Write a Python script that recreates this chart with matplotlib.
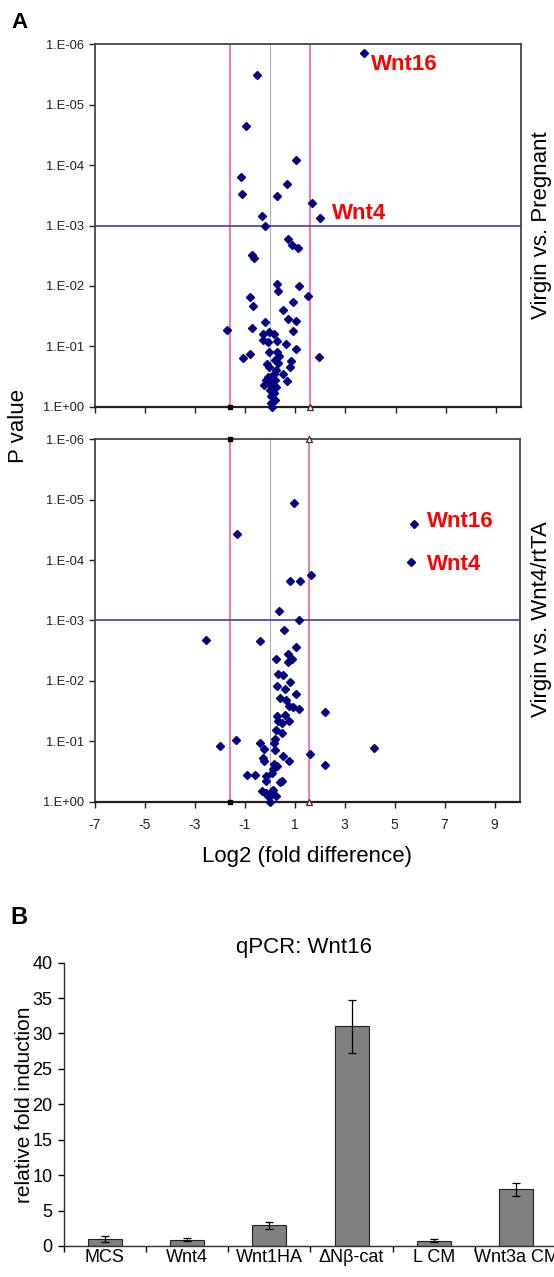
"""
Volcano plots (panel A) and qPCR bar chart (panel B) for Wnt16.
"""
import matplotlib

matplotlib.use("Agg")  # headless
import matplotlib.pyplot as plt
import numpy as np
from matplotlib.ticker import FixedLocator, NullLocator

plt.rcParams.update({
    "font.family": ["Liberation Sans", "DejaVu Sans"],
    "axes.linewidth": 1.2,
})

NAVY = "#000080"
PINK = "#EE5599"
BLUE = "#3838D8"
GRAY_LINE = "#A8A8A8"
FRAME = "#454545"
BAR_GRAY = "#808080"

# --- panel A: Virgin vs. Pregnant (log2 fold, log10 p value) ---
top_x = [
    3.74, -0.53, -0.96, 1.01, -1.17, 0.66, -1.11, 0.28, 1.65, 1.99,
    -0.33, -0.21, 0.72, 0.86, 1.11, -0.73, -0.65, 0.28, 0.32, 1.16,
    1.50, -0.82, -0.69, 0.91, 0.50, 0.69, 1.04, -0.21, -0.73, -1.71,
    -0.30, -0.05, 0.15, 0.91, -0.28, 0.28, 0.63, -0.08, 1.01, -0.06,
    0.26, -0.82, -1.09, 1.96, 0.35, 0.19, 0.83, -0.13, 0.32, 0.77,
    0.22, 0.16, 0.50, -0.06, -0.09, 0.66, -0.23, 0.00, 0.09, 0.23,
    0.01, 0.16, 0.02, 0.19, 0.05, 0.06, 0.21, -0.15,
]
top_log10p = [
    -5.85, -5.50, -4.65, -4.09, -3.80, -3.69, -3.53, -3.49, -3.38, -3.12,
    -3.16, -3.00, -2.78, -2.68, -2.62, -2.52, -2.46, -2.03, -1.92, -2.00,
    -1.84, -1.82, -1.66, -1.74, -1.60, -1.46, -1.42, -1.41, -1.31, -1.27,
    -1.21, -1.24, -1.21, -1.26, -1.10, -1.08, -1.04, -1.07, -0.95, -0.91,
    -0.90, -0.88, -0.80, -0.82, -0.84, -0.77, -0.76, -0.70, -0.72, -0.66,
    -0.61, -0.54, -0.55, -0.65, -0.50, -0.42, -0.36, -0.39, -0.32, -0.33,
    -0.28, -0.22, -0.17, -0.11, -0.06, 0.00, -0.44, -0.44,
]

# --- panel A: Virgin vs. Wnt4/rtTA ---
bot_x = [
    5.79, 5.67, 0.97, -1.31, 1.65, 0.82, 1.23, 0.36, 1.16, 0.57,
    -2.53, -0.38, 1.04, 0.72, 0.89, 0.26, 0.72, 0.35, 0.55, 0.31,
    0.83, 0.62, 1.06, 0.42, 0.66, 0.77, 0.94, 1.16, 2.22, 0.29,
    0.60, 0.33, 0.49, 0.79, 0.25, 0.50, 0.21, 0.16, -1.35, -0.39,
    -1.99, -0.21, 0.21, 4.16, 1.62, 0.53, -0.28, -0.23, 0.77, 0.19,
    0.29, 2.23, 0.13, -0.89, -0.59, -0.16, 0.08, 0.50, -0.13, 0.43,
    -0.30, -0.13, 0.12, 0.25, -0.02, 0.01, -0.19, 0.10,
]
bot_log10p = [
    -4.59, -3.97, -4.94, -4.43, -3.76, -3.65, -3.65, -3.15, -3.00, -2.85,
    -2.68, -2.66, -2.56, -2.44, -2.36, -2.37, -2.31, -2.11, -2.10, -1.92,
    -1.98, -1.86, -1.79, -1.72, -1.69, -1.58, -1.56, -1.53, -1.49, -1.42,
    -1.43, -1.34, -1.31, -1.34, -1.19, -1.13, -1.03, -0.98, -1.02, -0.98,
    -0.92, -0.87, -0.86, -0.89, -0.79, -0.76, -0.73, -0.68, -0.67, -0.62,
    -0.59, -0.60, -0.54, -0.45, -0.44, -0.42, -0.47, -0.34, -0.34, -0.33,
    -0.18, -0.15, -0.20, -0.10, -0.08, 0.00, -0.14, -0.17,
]

p_ticks = [1e-6, 1e-5, 1e-4, 1e-3, 1e-2, 1e-1, 1.0]
p_tick_labels = ["1.E-06", "1.E-05", "1.E-04", "1.E-03", "1.E-02", "1.E-01", "1.E+00"]
fold_ticks = [-7, -5, -3, -1, 1, 3, 5, 7, 9]
fold_tick_labels = ["-7", "-5", "-3", "-1", "1", "3", "5", "7", "9"]

FOLD_CUT = np.log2(3.0)
P_CUT = 1e-3

# --- panel B: qPCR Wnt16 ---
conditions = ["MCS", "Wnt4", "Wnt1HA", "\u0394N\u03b2-cat", "L CM", "Wnt3a CM"]
fold_induction = [1.0, 0.9, 2.9, 31.0, 0.75, 8.0]
fold_err = [0.45, 0.25, 0.55, 3.75, 0.25, 0.95]


def _volcano(ax, x, log10p, labels, markers_top):
    ax.set_yscale("log")
    ax.set_xlim(-7, 10)
    ax.set_ylim(1.0, 1e-6)
    ax.axvline(-FOLD_CUT, color=PINK, lw=1.1, zorder=1)
    ax.axvline(FOLD_CUT, color=PINK, lw=1.1, zorder=1)
    ax.axvline(0, color=GRAY_LINE, lw=0.7, zorder=1)
    ax.axhline(P_CUT, color=BLUE, lw=1.2, zorder=1)
    ax.plot(x, 10.0 ** np.asarray(log10p), ls="none", marker="D", ms=4.2,
            color=NAVY, clip_on=False, zorder=4)

    ends = [1.0, 1e-6] if markers_top else [1.0]
    for yy in ends:
        ax.plot([-FOLD_CUT], [yy], marker="s", ms=3.5, color="black",
                clip_on=False, zorder=5)
        ax.plot([FOLD_CUT], [yy], marker="^", ms=4, mfc="white",
                mec="#502020", mew=0.9, clip_on=False, zorder=5)

    for txt, tx, ty in labels:
        ax.text(tx, 10.0 ** ty, txt, color="#FF0000", fontweight="bold",
                fontsize=16, va="center", ha="left")

    ax.yaxis.set_major_locator(FixedLocator(p_ticks))
    ax.yaxis.set_minor_locator(NullLocator())
    ax.set_yticklabels(p_tick_labels)
    ax.set_xticks(fold_ticks)
    ax.set_xticklabels(fold_tick_labels)
    ax.tick_params(direction="out", length=4, width=1, labelsize=9.3,
                   colors="#222222")
    ax.tick_params(axis="x", pad=8, labelsize=10)
    for side in ("top", "right", "left"):
        ax.spines[side].set_color(FRAME)
        ax.spines[side].set_linewidth(1.3)
    ax.spines["bottom"].set_color("#202020")
    ax.spines["bottom"].set_linewidth(1.6)


fig = plt.figure(figsize=(5.54, 12.77), dpi=100)

ax_top = fig.add_axes([0.1709, 0.6815, 0.7695, 0.2838])
_volcano(ax_top, top_x, top_log10p,
         [("Wnt16", 4.02, -5.66), ("Wnt4", 2.46, -3.20)], markers_top=False)
ax_top.tick_params(axis="x", labelbottom=False)

ax_bot = fig.add_axes([0.1709, 0.3722, 0.7670, 0.2838])
_volcano(ax_bot, bot_x, bot_log10p,
         [("Wnt16", 6.29, -4.64), ("Wnt4", 6.29, -3.92)], markers_top=True)
ax_bot.set_xlabel("Log2 (fold difference)", fontsize=16, labelpad=10)

fig.text(18 / 554, 1 - 426 / 1277, "P value", rotation=90, fontsize=16,
         ha="center", va="center")
fig.text(541 / 554, 1 - 225 / 1277, "Virgin vs. Pregnant", rotation=90,
         fontsize=16, ha="center", va="center")
fig.text(541 / 554, 1 - 619 / 1277, "Virgin vs. Wnt4/rtTA", rotation=90,
         fontsize=16, ha="center", va="center")
fig.text(11 / 554, 1 - 22 / 1277, "A", fontsize=16, fontweight="bold",
         ha="left", va="center")

# panel B
ax_bar = fig.add_axes([0.1148, 0.02428, 0.8913, 0.2219])
pos = np.arange(len(conditions)) + 0.5
ax_bar.bar(pos, fold_induction, width=0.41, color=BAR_GRAY,
           edgecolor="#202020", linewidth=0.8, yerr=fold_err, capsize=3,
           error_kw=dict(elinewidth=0.9, capthick=0.9, ecolor="black"),
           zorder=2)
ax_bar.set_xlim(0, len(conditions))
ax_bar.set_ylim(0, 40)
ax_bar.set_yticks(np.arange(0, 41, 5))
ax_bar.set_xticks(np.arange(len(conditions) + 1))
ax_bar.set_xticklabels([])
ax_bar.set_xticks(pos, minor=True)
ax_bar.set_xticklabels(conditions, minor=True)
ax_bar.tick_params(axis="x", which="major", direction="out", length=4, width=1)
ax_bar.tick_params(axis="x", which="minor", length=0, pad=2, labelsize=13)
ax_bar.tick_params(axis="y", direction="out", length=4, width=1, labelsize=13,
                   pad=4)
for side in ("top", "right"):
    ax_bar.spines[side].set_visible(False)
for side in ("left", "bottom"):
    ax_bar.spines[side].set_color("#303030")
    ax_bar.spines[side].set_linewidth(1.0)
ax_bar.set_ylabel("relative fold induction", fontsize=15)
ax_bar.yaxis.set_label_coords(-0.060, 0.5)

fig.text(304 / 554, 1 - 947 / 1277, "qPCR: Wnt16", fontsize=16,
         ha="center", va="center")
fig.text(10 / 554, 1 - 918 / 1277, "B", fontsize=17, fontweight="bold",
         ha="left", va="center")

fig.savefig("out.png", dpi=100)
